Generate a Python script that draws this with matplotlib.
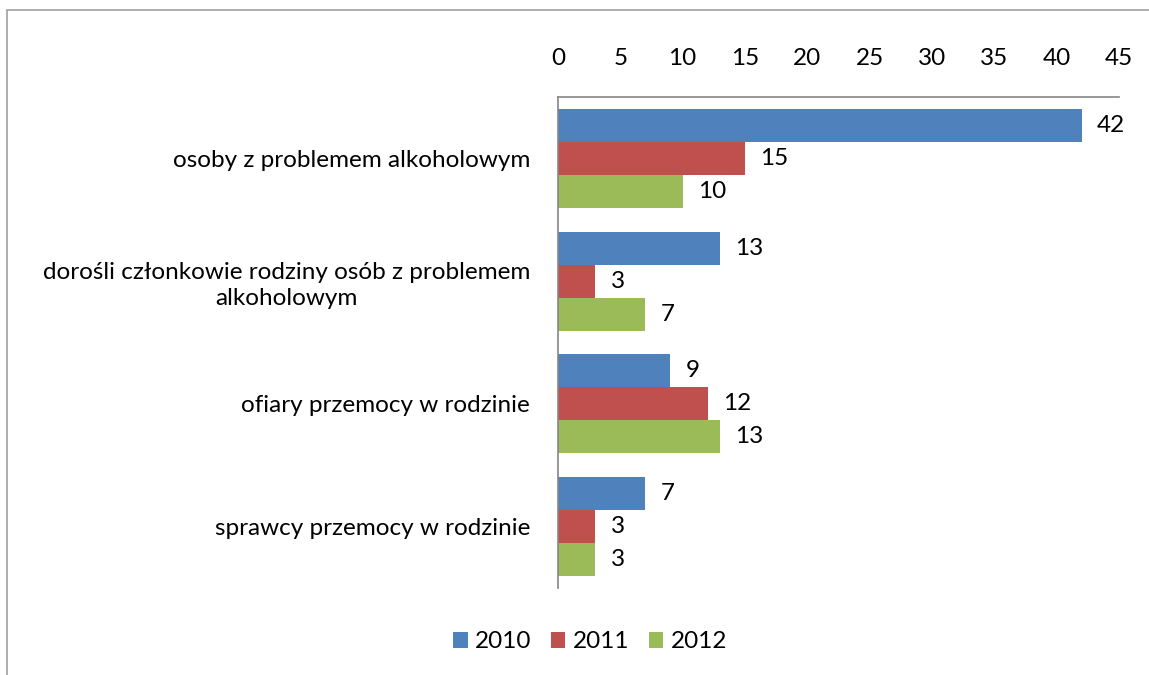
import matplotlib
matplotlib.use("Agg")
import matplotlib.pyplot as plt
from matplotlib.patches import Rectangle
import numpy as np

categories = [
    "osoby z problemem alkoholowym",
    "dorośli członkowie rodziny osób z problemem\nalkoholowym",
    "ofiary przemocy w rodzinie",
    "sprawcy przemocy w rodzinie",
]
series_names = ["2010", "2011", "2012"]
values_2010 = [42, 13, 9, 7]
values_2011 = [15, 3, 12, 3]
values_2012 = [10, 7, 13, 3]
x_ticks = [0, 5, 10, 15, 20, 25, 30, 35, 40, 45]

colors = ["#4F81BD", "#C0504D", "#9BBB59"]
plt.rcParams["font.family"] = ["Lato", "DejaVu Sans"]
FS = 17.5

fig = plt.figure(figsize=(11.49, 6.75), dpi=100)
W, H = 1149, 675
ax = fig.add_axes([558 / W, 1 - 588 / H, (1119 - 558) / W, (588 - 97) / H])

# figure border
fig.patches.append(Rectangle((7 / W, -0.1), 1.2, (1 - 10 / H) + 0.1, transform=fig.transFigure,
                             fill=False, edgecolor="#A0A0A0", linewidth=1.2))

bh = 0.269
y = np.arange(len(categories))
all_vals = [values_2010, values_2011, values_2012]
for i, (vals, name) in enumerate(zip(all_vals, series_names)):
    pos = y + (i - 1) * bh
    ax.barh(pos, vals, height=bh, color=colors[i], label=name, linewidth=0)
    for p, v in zip(pos, vals):
        ax.annotate(str(v), (v, p), xytext=(11, 0), textcoords="offset points",
                    ha="left", va="center", fontsize=FS, color="black")

ax.set_xlim(0, 45)
ax.set_ylim(len(categories) - 0.5, -0.5)
ax.xaxis.tick_top()
ax.set_xticks(x_ticks)
ax.set_xticklabels([str(t) for t in x_ticks], fontsize=FS)
ax.tick_params(axis="x", length=0, pad=20)
ax.set_yticks(y)
ax.set_yticklabels(categories, fontsize=FS, multialignment="center", linespacing=1.3)
ax.tick_params(axis="y", length=0, pad=20)
for s in ["right", "bottom"]:
    ax.spines[s].set_visible(False)
for s in ["left", "top"]:
    ax.spines[s].set_color("#868686")
    ax.spines[s].set_linewidth(1.2)

fig.legend(loc="center", bbox_to_anchor=(590 / W, 1 - 642 / H), ncol=3, frameon=False,
           fontsize=FS, handlelength=0.6, handleheight=0.6, handletextpad=0.3, columnspacing=0.8)

fig.savefig("out.png", dpi=100)
